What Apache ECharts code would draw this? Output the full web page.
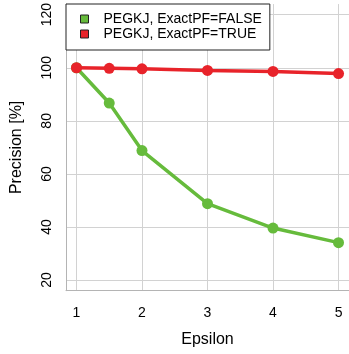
<!DOCTYPE html>
<html>
<head>
<meta charset="utf-8">
<script src="https://cdn.jsdelivr.net/npm/echarts@6/dist/echarts.min.js"></script>
<style>html,body{margin:0;padding:0;background:#fff;}#c{width:349px;height:354px;}</style>
</head>
<body>
<div id="c"></div>
<script>
const epsilon = [1, 1.5, 2, 3, 4, 5];
const exactFalse = [100, 86.7, 68.8, 48.8, 39.6, 34.1];
const exactTrue = [100, 99.8, 99.6, 99.0, 98.6, 97.8];
const seriesNames = ['PEGKJ, ExactPF=FALSE', 'PEGKJ, ExactPF=TRUE'];
const xTicks = [1, 2, 3, 4, 5];
const yTicks = [20, 40, 60, 80, 100, 120];

const FONT = 'Liberation Sans, Arial, sans-serif';
const green = '#66bb3c';
const red = '#e8232a';
const chart = echarts.init(document.getElementById('c'), null, {renderer: 'canvas'});
chart.setOption({
  animation: false,
  backgroundColor: '#fff',
  grid: {left: 66, top: 3, width: 284.5, height: 287.7, show: false},
  xAxis: {
    type: 'value', min: 0.84, max: 5.16,
    name: 'Epsilon', nameLocation: 'middle', nameGap: 41,
    nameTextStyle: {fontFamily: FONT, fontSize: 16, color: '#000'},
    axisLine: {show: true, onZero: false, lineStyle: {color: '#b4b4b4', width: 1}},
    axisTick: {show: false, customValues: xTicks},
    axisLabel: {customValues: xTicks, margin: 15, fontFamily: FONT, fontSize: 14, color: '#000'},
    splitLine: {show: true, lineStyle: {color: '#d2d2d2', width: 1}}
  },
  yAxis: {
    type: 'value', min: 16, max: 124,
    name: 'Precision [%]', nameLocation: 'middle', nameGap: 41, nameRotate: 90,
    nameTextStyle: {fontFamily: FONT, fontSize: 16, color: '#000'},
    axisLine: {show: true, onZero: false, lineStyle: {color: '#b4b4b4', width: 1}},
    axisTick: {show: false, customValues: yTicks},
    axisLabel: {customValues: yTicks, rotate: 90, margin: 12, fontFamily: FONT, fontSize: 14, color: '#000'},
    splitLine: {show: true, lineStyle: {color: '#d2d2d2', width: 1}}
  },
  legend: {
    left: 66, top: 4, orient: 'vertical',
    backgroundColor: '#fff', borderColor: '#222', borderWidth: 1,
    padding: [8, 8, 9, 14], itemGap: 1,
    icon: 'rect', itemWidth: 8, itemHeight: 8,
    itemStyle: {borderColor: '#222', borderWidth: 1},
    textStyle: {fontFamily: FONT, fontSize: 14, color: '#000', padding: [0, 0, 0, 10]},
    data: seriesNames
  },
  series: [
    {name: seriesNames[0], type: 'line', data: epsilon.map((x, i) => [x, exactFalse[i]]),
     color: green, lineStyle: {width: 3.5, color: green}, itemStyle: {color: green},
     symbol: 'circle', symbolSize: 11, z: 2},
    {name: seriesNames[1], type: 'line', data: epsilon.map((x, i) => [x, exactTrue[i]]),
     color: red, lineStyle: {width: 3.5, color: red}, itemStyle: {color: red},
     symbol: 'circle', symbolSize: 11, z: 3}
  ]
});
</script>
</body>
</html>
